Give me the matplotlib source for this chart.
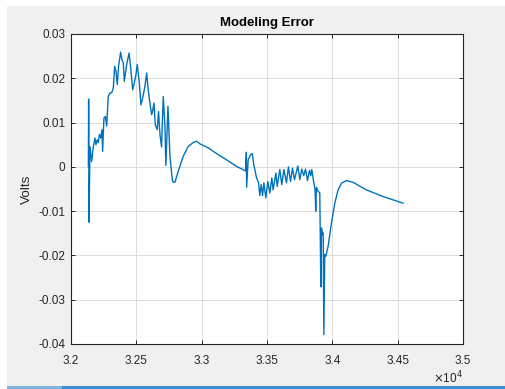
import matplotlib

matplotlib.use("Agg")
import matplotlib.pyplot as plt
from matplotlib.patches import Rectangle
from matplotlib.ticker import FuncFormatter

# Sample time and modeling error (volts)
time = [
    32133, 32135, 32138, 32145, 32158, 32171, 32184, 32191, 32201, 32209,
    32217, 32227, 32237, 32242, 32252, 32263, 32273, 32285, 32298, 32311,
    32324, 32334, 32344, 32354, 32364, 32380, 32390, 32400, 32408, 32426,
    32444, 32456, 32472, 32482, 32497, 32507, 32523, 32535, 32548, 32566,
    32579, 32591, 32604, 32617, 32624, 32635, 32645, 32660, 32670, 32681,
    32693, 32706, 32719, 32726, 32742, 32757, 32777, 32795, 32821, 32859,
    32897, 32935, 32961, 32986, 33050, 33114, 33190, 33267, 33336, 33342,
    33344, 33356, 33374, 33387, 33399, 33420, 33435, 33445, 33455, 33466,
    33476, 33491, 33506, 33522, 33537, 33547, 33568, 33578, 33598, 33613,
    33629, 33649, 33664, 33680, 33695, 33710, 33736, 33751, 33766, 33781,
    33795, 33810, 33825, 33835, 33843, 33858, 33868, 33873, 33878, 33891,
    33904, 33912, 33917, 33924, 33930, 33935, 33942, 33950, 33968, 33993,
    34019, 34044, 34070, 34108, 34159, 34261, 34388, 34541,
]
error = [
    0.0001, 0.0153, -0.0125, 0.0046, 0.0012, 0.0046, 0.0065, 0.0050, 0.0061, 0.0055,
    0.0073, 0.0065, 0.0084, 0.0035, 0.0110, 0.0114, 0.0092, 0.0159, 0.0167, 0.0167,
    0.0178, 0.0227, 0.0216, 0.0186, 0.0227, 0.0259, 0.0242, 0.0235, 0.0193, 0.0231,
    0.0257, 0.0227, 0.0174, 0.0186, 0.0208, 0.0231, 0.0189, 0.0140, 0.0155, 0.0182,
    0.0212, 0.0174, 0.0144, 0.0118, 0.0125, 0.0144, 0.0095, 0.0084, 0.0125, 0.0073,
    0.0045, 0.0159, 0.0092, 0.0003, 0.0137, 0.0024, -0.0033, -0.0035, -0.0010, 0.0024,
    0.0046, 0.0055, 0.0058, 0.0052, 0.0043, 0.0030, 0.0016, 0.0001, -0.0009, 0.0033,
    -0.0046, 0.0016, 0.0027, 0.0030, 0.0005, -0.0025, -0.0035, -0.0065, -0.0040, -0.0065,
    -0.0036, -0.0070, -0.0033, -0.0059, -0.0025, -0.0052, -0.0014, -0.0044, -0.0006, -0.0040,
    -0.0006, -0.0036, 0.0000, -0.0033, -0.0003, -0.0029, 0.0002, -0.0029, -0.0005, -0.0020,
    -0.0005, -0.0031, -0.0008, -0.0020, -0.0006, -0.0036, -0.0052, -0.0100, -0.0046, -0.0055,
    -0.0059, -0.0271, -0.0138, -0.0153, -0.0149, -0.0379, -0.0198, -0.0202, -0.0179, -0.0127,
    -0.0082, -0.0052, -0.0037, -0.0031, -0.0035, -0.0052, -0.0067, -0.0082,
]

x_ticks = [32000, 32500, 33000, 33500, 34000, 34500, 35000]
y_ticks = [-0.04, -0.03, -0.02, -0.01, 0, 0.01, 0.02, 0.03]

plt.rcParams["font.family"] = ["Liberation Sans", "DejaVu Sans"]
text_color = "#262626"

fig = plt.figure(figsize=(5.06, 3.89), dpi=100, facecolor="white")

# window background and the strip along the bottom edge
fig.patches.append(Rectangle((7 / 506, 3 / 389), 498 / 506, 380 / 389,
                             transform=fig.transFigure, facecolor="#F0F0F0",
                             edgecolor="none", zorder=-2))
fig.patches.append(Rectangle((7 / 506, 0), 55 / 506, 3 / 389,
                             transform=fig.transFigure, facecolor="#7FB2DC",
                             edgecolor="none", zorder=-1))
fig.patches.append(Rectangle((62 / 506, 0), 443 / 506, 3 / 389,
                             transform=fig.transFigure, facecolor="#3C8DCF",
                             edgecolor="none", zorder=-1))

ax = fig.add_axes([71 / 506, 45 / 389, 392 / 506, 310 / 389])
ax.set_facecolor("white")
ax.plot(time, error, color="#0072BD", linewidth=1.0)

ax.set_xlim(32000, 35000)
ax.set_ylim(-0.04, 0.03)
ax.set_xticks(x_ticks)
ax.set_yticks(y_ticks)
ax.xaxis.set_major_formatter(FuncFormatter(lambda v, _: f"{v / 1e4:g}"))
ax.yaxis.set_major_formatter(FuncFormatter(lambda v, _: f"{v:g}" if v else "0"))

ax.grid(True, color="#DCDCDC", linewidth=0.7)
ax.set_axisbelow(True)
for spine in ax.spines.values():
    spine.set_color(text_color)
    spine.set_linewidth(0.8)
ax.tick_params(direction="in", length=3, width=0.7, color=text_color,
               labelcolor=text_color, labelsize=8.5, top=True, right=True)
ax.tick_params(axis="x", pad=8)
ax.tick_params(axis="y", pad=4)

ax.set_title("Modeling Error", fontsize=9.5, fontweight="bold", color="black", pad=6)
ax.set_ylabel("Volts", fontsize=9.7, color=text_color, labelpad=4)
ax.text(1.0, -0.082, r"$\times$10$^{4}$", transform=ax.transAxes, ha="right",
        va="top", fontsize=8.5, color=text_color)

fig.savefig("out.png", dpi=100, facecolor=fig.get_facecolor())
